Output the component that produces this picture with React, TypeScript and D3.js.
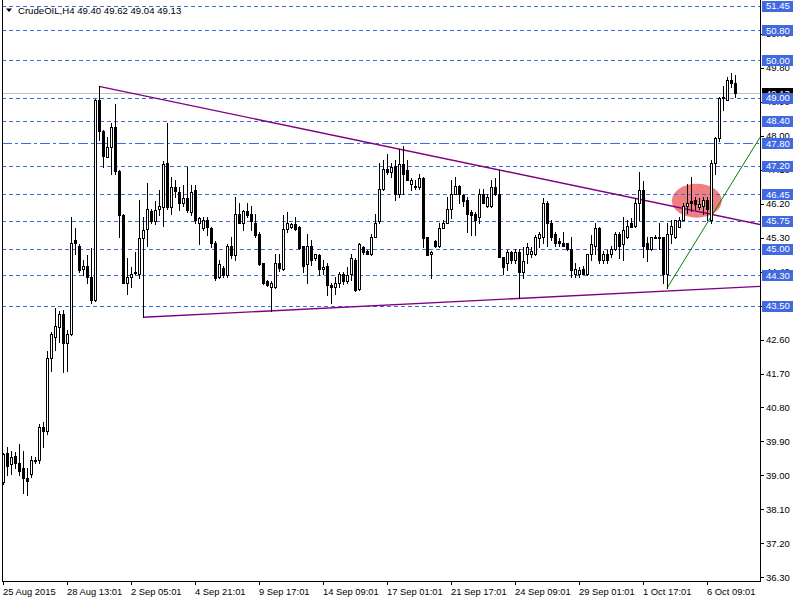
import { useMemo } from 'react';
import * as d3 from 'd3';

// H4 bars (oldest first)
const opens = [
  38.82, 39.60, 39.29, 39.51, 39.32, 39.19, 38.92, 39.05, 39.41, 39.42, 40.27, 40.19, 42.10, 42.66, 42.92, 43.29,
  42.50, 42.74, 45.23, 45.09, 44.46, 44.54, 44.25, 43.64, 48.94, 48.12, 47.45, 47.69, 48.22, 47.06, 45.89, 44.11,
  44.25, 44.37, 44.35, 45.28, 45.52, 46.00, 45.74, 46.05, 46.10, 47.27, 46.10, 46.64, 46.50, 46.23, 46.34, 45.97,
  46.55, 45.70, 45.55, 45.76, 45.55, 45.15, 44.25, 44.49, 44.30, 45.09, 44.83, 45.94, 45.70, 46.00, 45.92, 45.70,
  45.39, 44.62, 44.14, 43.98, 43.98, 44.64, 44.46, 45.52, 45.57, 45.65, 45.57, 45.07, 44.59, 45.09, 44.75, 44.83,
  44.46, 44.54, 44.04, 43.98, 44.09, 44.35, 44.14, 44.33, 44.72, 43.93, 45.04, 44.94, 44.86, 45.31, 45.73, 46.58,
  47.13, 47.03, 47.21, 46.47, 47.24, 47.08, 46.71, 46.68, 46.63, 46.87, 45.31, 44.86, 45.20, 45.09, 45.55, 45.70,
  46.07, 46.47, 46.66, 46.42, 46.31, 45.97, 45.94, 45.84, 46.47, 46.13, 46.13, 46.63, 46.47, 44.78, 44.62, 44.91,
  44.70, 44.91, 44.38, 44.88, 44.88, 44.86, 45.28, 45.33, 46.23, 45.68, 45.41, 45.20, 45.17, 45.15, 44.99, 44.35,
  44.35, 44.46, 44.35, 44.86, 45.09, 45.55, 44.70, 44.88, 44.88, 45.01, 45.39, 45.12, 45.31, 45.68, 45.62, 46.23,
  46.55, 45.17, 45.01, 45.33, 45.33, 45.31, 44.35, 45.41, 45.31, 45.57, 45.78, 46.13, 46.26, 46.29, 46.10, 46.15,
  46.31, 45.78, 47.29, 47.93, 48.99, 48.96, 49.49, 49.40,
];
const highs = [
  39.60, 39.74, 39.66, 39.61, 39.82, 39.64, 39.19, 39.51, 39.48, 40.35, 40.41, 42.29, 42.79, 43.43, 43.35, 43.37,
  42.84, 45.86, 45.55, 45.12, 44.70, 44.83, 45.02, 48.98, 49.31, 48.14, 47.98, 48.35, 48.83, 47.08, 45.92, 44.75,
  44.51, 44.91, 46.29, 45.84, 46.74, 46.07, 46.26, 46.55, 47.32, 48.35, 46.90, 46.82, 46.63, 46.69, 47.16, 46.69,
  46.69, 45.86, 45.84, 45.84, 45.57, 45.20, 44.70, 44.54, 45.12, 45.31, 46.37, 46.21, 46.02, 46.21, 46.15, 45.94,
  45.44, 44.64, 44.19, 44.14, 44.88, 44.88, 45.89, 45.97, 45.70, 45.84, 45.60, 45.09, 45.41, 45.23, 44.88, 44.86,
  44.70, 44.64, 44.11, 44.25, 44.38, 44.38, 44.51, 44.88, 44.75, 45.17, 45.07, 44.96, 45.41, 45.94, 47.29, 47.35,
  47.53, 47.27, 47.35, 47.66, 47.74, 47.35, 46.87, 46.82, 46.99, 46.90, 45.33, 44.94, 45.23, 45.68, 45.76, 46.37,
  46.82, 46.90, 46.69, 46.47, 46.37, 46.02, 45.97, 46.60, 46.60, 46.47, 46.82, 46.87, 47.08, 44.80, 44.96, 44.94,
  44.99, 44.99, 45.04, 45.15, 45.04, 45.36, 45.44, 46.34, 46.26, 45.76, 45.44, 45.28, 45.44, 45.17, 45.31, 44.62,
  44.51, 44.56, 44.88, 45.36, 45.68, 45.57, 44.94, 44.96, 45.09, 45.44, 45.44, 45.84, 45.76, 45.81, 46.34, 47.03,
  46.80, 45.31, 45.33, 45.36, 45.70, 45.33, 45.68, 45.76, 45.78, 45.84, 46.23, 46.71, 46.90, 46.37, 46.34, 46.37,
  46.37, 47.35, 47.96, 49.02, 49.33, 49.55, 49.66, 49.62,
];
const lows = [
  38.76, 39.00, 39.05, 39.19, 39.00, 38.53, 38.47, 38.95, 39.32, 39.32, 39.74, 40.11, 41.76, 42.31, 42.53, 41.73,
  41.76, 42.71, 44.88, 44.38, 44.30, 44.09, 43.56, 43.62, 47.88, 47.16, 47.43, 46.99, 46.99, 45.31, 44.09, 43.82,
  43.98, 44.33, 44.22, 43.19, 45.09, 45.68, 45.65, 45.89, 45.62, 46.07, 45.92, 46.37, 46.02, 46.13, 45.97, 45.89,
  45.68, 45.12, 45.49, 45.36, 45.04, 44.17, 44.22, 44.25, 44.25, 44.75, 44.70, 45.68, 45.49, 45.86, 45.49, 45.31,
  44.57, 44.06, 44.01, 43.35, 43.96, 44.41, 44.43, 45.44, 45.55, 45.49, 45.01, 44.38, 44.11, 44.57, 44.72, 44.30,
  44.35, 43.77, 43.56, 43.82, 43.98, 44.06, 44.09, 44.17, 43.88, 43.90, 44.88, 44.86, 44.83, 45.31, 45.70, 46.55,
  46.99, 46.90, 46.31, 46.37, 46.47, 46.82, 46.55, 46.60, 46.60, 45.04, 44.83, 44.22, 45.04, 45.04, 45.55, 45.68,
  45.81, 46.47, 46.23, 46.15, 45.44, 45.36, 45.36, 45.70, 46.21, 46.10, 46.10, 46.42, 44.78, 44.35, 44.43, 44.64,
  44.64, 43.69, 44.22, 44.64, 44.78, 44.83, 45.04, 45.15, 45.09, 45.25, 45.09, 45.09, 45.07, 44.96, 44.25, 44.25,
  44.25, 44.35, 44.30, 44.70, 44.88, 44.64, 44.64, 44.64, 44.78, 44.96, 44.75, 44.70, 45.28, 45.57, 45.57, 45.76,
  44.78, 44.67, 44.96, 45.28, 45.01, 44.09, 43.96, 45.15, 45.28, 45.57, 45.76, 45.95, 46.00, 46.07, 46.07, 45.94,
  45.76, 45.70, 46.99, 47.85, 48.67, 48.94, 49.28, 49.04,
];
const closes = [
  39.58, 39.24, 39.48, 39.32, 39.13, 38.92, 38.84, 39.42, 39.42, 40.27, 40.17, 42.10, 42.74, 42.95, 43.27, 42.50,
  42.76, 45.17, 45.17, 44.45, 44.54, 44.25, 43.66, 48.94, 48.12, 47.46, 47.69, 48.22, 47.06, 45.89, 44.11, 44.25,
  44.35, 44.38, 45.28, 45.51, 46.05, 45.74, 46.02, 46.15, 47.24, 46.10, 46.63, 46.53, 46.21, 46.34, 46.02, 46.50,
  45.76, 45.81, 45.76, 45.57, 45.15, 44.22, 44.59, 44.30, 45.09, 44.83, 45.94, 45.70, 46.00, 45.89, 45.73, 45.36,
  44.59, 44.09, 44.04, 44.09, 44.64, 44.49, 45.52, 45.70, 45.65, 45.52, 45.02, 44.56, 45.07, 44.70, 44.86, 44.46,
  44.51, 44.04, 43.98, 44.11, 44.35, 44.14, 44.30, 44.75, 43.90, 45.12, 44.91, 44.88, 45.31, 45.70, 46.58, 47.13,
  47.03, 47.16, 46.47, 47.24, 47.00, 46.84, 46.84, 46.63, 46.87, 45.28, 44.83, 44.91, 45.09, 45.55, 45.70, 46.07,
  46.47, 46.66, 46.47, 46.26, 45.94, 45.89, 45.78, 46.47, 46.23, 46.37, 46.63, 46.47, 44.78, 44.51, 44.91, 44.70,
  44.91, 44.38, 44.67, 45.04, 44.94, 45.31, 45.39, 46.23, 45.70, 45.31, 45.17, 45.15, 45.09, 45.01, 44.43, 44.46,
  44.43, 44.35, 44.86, 45.12, 45.55, 44.70, 44.88, 44.70, 45.01, 45.41, 45.09, 45.49, 45.62, 45.57, 46.23, 46.55,
  45.09, 45.01, 45.31, 45.31, 45.31, 44.35, 45.41, 45.62, 45.76, 45.78, 46.13, 46.21, 46.21, 46.18, 46.18, 46.31,
  46.07, 47.29, 47.93, 48.99, 49.02, 49.49, 49.39, 49.13,
];

const timeLabels = [
  '25 Aug 2015', '28 Aug 13:01', '2 Sep 05:01', '4 Sep 21:01', '9 Sep 17:01', '14 Sep 09:01',
  '17 Sep 01:01', '21 Sep 17:01', '24 Sep 09:01', '29 Sep 01:01', '1 Oct 17:01', '6 Oct 09:01',
];
const timeLabelBars = [0, 16, 32, 48, 64, 80, 96, 112, 128, 144, 160, 176];

const priceTicks = [36.3, 37.2, 38.1, 39.0, 39.9, 40.8, 41.7, 42.6, 43.5, 44.4, 45.3, 46.2, 47.1, 48.0, 48.9, 49.8, 50.7];
const levels = [51.45, 50.8, 50.0, 49.0, 48.4, 47.8, 47.2, 46.45, 45.75, 45.0, 44.3, 43.5];
const dashDotLevels = [47.8];
const bidPrice = 49.13;

// trend lines as [bar, price] anchors
const upperTrend = [[24, 49.31], [189.25, 45.65]];
const lowerTrend = [[35, 43.19], [189.25, 44.01]];
const greenTrend = [[166, 43.96], [189.25, 47.96]];
// highlighted zone: bar range and price range
const zoneBars = [167.2, 179.7];
const zonePrices = [45.83, 46.73];

const title = 'CrudeOIL,H4  49.40 49.62 49.04 49.13';

const FONT = '"Liberation Sans", Arial, sans-serif';
const LEVEL_BLUE = '#4169E1';

export default function App() {
  const W = 800, H = 600;
  const left = 2, right = 760, bottom = 581;

  const x = useMemo(() => d3.scaleLinear().domain([0, 183]).range([3, 735]), []);
  const y = useMemo(() => d3.scaleLinear().domain([36.3, 50.0]).range([577.3, 60.3]), []);
  const py = (p: number) => Math.round(y(p)) + 0.5;

  const bars = d3.range(opens.length).map(i => ({ i, o: opens[i], h: highs[i], l: lows[i], c: closes[i] }));

  const line = d3.line<number[]>().x(d => x(d[0])).y(d => y(d[1]));

  const zx0 = x(zoneBars[0]), zx1 = x(zoneBars[1]);
  const zy0 = y(zonePrices[1]), zy1 = y(zonePrices[0]);

  return (
    <svg width={W} height={H} style={{ position: 'absolute', left: 0, top: 0, background: '#fff' }}
      fontFamily={FONT}>
      <defs>
        <clipPath id="plot">
          <rect x={left} y={0} width={right - left} height={bottom} />
        </clipPath>
      </defs>

      <g clipPath="url(#plot)">
        <ellipse cx={(zx0 + zx1) / 2} cy={(zy0 + zy1) / 2} rx={(zx1 - zx0) / 2} ry={(zy1 - zy0) / 2}
          fill="#F08080" />

        {levels.map(p => (
          <line key={p} x1={left} x2={right} y1={py(p)} y2={py(p)} stroke={LEVEL_BLUE} strokeWidth={1}
            strokeDasharray={dashDotLevels.includes(p) ? '10,3,3,3' : '4,3'} shapeRendering="crispEdges" />
        ))}

        <line x1={left} x2={right} y1={py(bidPrice)} y2={py(bidPrice)} stroke="#C0C0C0" shapeRendering="crispEdges" />

        <path d={line(upperTrend) || ''} stroke="#800080" strokeWidth={1.4} fill="none" />
        <path d={line(lowerTrend) || ''} stroke="#800080" strokeWidth={1.4} fill="none" />
        <path d={line(greenTrend) || ''} stroke="#008000" strokeWidth={1} fill="none" />

        <g shapeRendering="crispEdges">
          {bars.map(b => {
            const cx = Math.round(x(b.i));
            const top = Math.round(y(Math.max(b.o, b.c)));
            const bot = Math.round(y(Math.min(b.o, b.c)));
            const bull = b.c >= b.o;
            return (
              <g key={b.i}>
                <line x1={cx + 0.5} x2={cx + 0.5} y1={Math.round(y(b.h))} y2={Math.round(y(b.l)) + 1} stroke="#000" />
                {bull ? (
                  <rect x={cx - 0.5} y={top + 0.5} width={2} height={Math.max(bot - top, 1)} fill="#fff" stroke="#000" />
                ) : (
                  <rect x={cx - 1} y={top} width={3} height={Math.max(bot - top, 1) + 1} fill="#000" />
                )}
              </g>
            );
          })}
        </g>
      </g>

      {/* frame */}
      <g shapeRendering="crispEdges" stroke="#000" fill="none">
        <line x1={left + 0.5} x2={left + 0.5} y1={0} y2={bottom + 1} />
        <line x1={right + 0.5} x2={right + 0.5} y1={0} y2={bottom + 1} />
        <line x1={left} x2={right + 1} y1={bottom + 0.5} y2={bottom + 0.5} />
      </g>

      {/* title */}
      <path d="M6,8.5 L12,8.5 L9,12 Z" fill="#000" />
      <text x={18} y={13.5} fontSize={9.6} fill="#000">{title}</text>

      {/* time axis */}
      {timeLabelBars.map((bi, k) => {
        const tx = Math.round(x(bi));
        return (
          <g key={bi}>
            <line x1={tx + 0.5} x2={tx + 0.5} y1={bottom} y2={bottom + 4} stroke="#000" shapeRendering="crispEdges" />
            <text x={tx} y={595} fontSize={9.4} fill="#000">{timeLabels[k]}</text>
          </g>
        );
      })}

      {/* price axis ticks */}
      {priceTicks.map(p => (
        <g key={p}>
          <line x1={right} x2={right + 4} y1={py(p)} y2={py(p)} stroke="#000" shapeRendering="crispEdges" />
          <text x={766} y={y(p) + 3.4} fontSize={9.5} fill="#000">{p.toFixed(2)}</text>
        </g>
      ))}

      {/* bid label */}
      <rect x={762} y={Math.round(y(bidPrice)) - 5} width={31} height={11} fill="#000" />
      <text x={766} y={y(bidPrice) + 3.4} fontSize={9.5} fill="#fff">{bidPrice.toFixed(2)}</text>

      {/* level labels */}
      {levels.map(p => (
        <g key={p}>
          <rect x={762} y={Math.round(y(p)) - 5} width={31} height={11} fill={LEVEL_BLUE} />
          <text x={766} y={y(p) + 3.4} fontSize={9.5} fill="#fff">{p.toFixed(2)}</text>
        </g>
      ))}
    </svg>
  );
}
